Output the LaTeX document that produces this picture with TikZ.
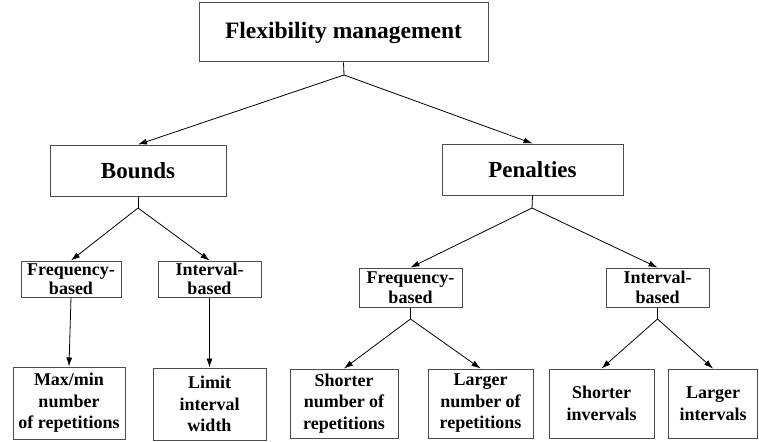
\documentclass[tikz,border=0pt]{standalone}
\usepackage{fontspec}
\setmainfont{Liberation Serif}
\usetikzlibrary{arrows.meta}

\begin{document}
\begin{tikzpicture}[x=1pt,y=-1pt,
  box/.style={draw=black!70,line width=1pt,inner sep=0pt,align=center,font=\bfseries\fontsize{18}{19.5}\selectfont},
  leaf/.style={box,font=\bfseries\fontsize{18}{21.5}\selectfont},
  arr/.style={line width=0.8pt,-{Latex[length=9pt,width=6pt]}}]
\useasboundingbox (0,0) rectangle (759,441);

%boxes
\node[box,minimum width=289pt,minimum height=59pt,font=\bfseries\fontsize{23.5}{26}\selectfont] (flex) at (343.5,32.5) {Flexibility management};
\node[box,minimum width=176pt,minimum height=51pt,font=\bfseries\fontsize{23}{26}\selectfont] (bounds) at (138,170.5) {Bounds};
\node[box,minimum width=181pt,minimum height=51pt,font=\bfseries\fontsize{23}{26}\selectfont] (penal) at (532.5,169.5) {Penalties};

\node[box,minimum width=100pt,minimum height=36pt] (bfreq) at (71,279) {Frequency-\\based};
\node[box,minimum width=103pt,minimum height=36pt] (bint) at (209.5,279) {Interval-\\based};
\node[box,minimum width=103pt,minimum height=39pt] (pfreq) at (410.5,287.5) {Frequency-\\based};
\node[box,minimum width=103pt,minimum height=39pt] (pint) at (657.5,287.5) {Interval-\\based};

\node[leaf,minimum width=112pt,minimum height=72pt] (maxmin) at (69,403) {Max/min\\number\\of repetitions};
\node[leaf,minimum width=113pt,minimum height=72pt] (limit) at (209.5,404) {Limit\\interval\\width};
\node[leaf,minimum width=108pt,minimum height=69pt] (shortnum) at (344,403.5) {Shorter\\number of\\repetitions};
\node[leaf,minimum width=105pt,minimum height=69pt] (largenum) at (480.5,403.5) {Larger\\number of\\repetitions};
\node[leaf,minimum width=105pt,minimum height=69pt] (shortint) at (601.5,403.5) {Shorter\\invervals};
\node[leaf,minimum width=89pt,minimum height=69pt] (largeint) at (713,403.5) {Larger\\intervals};

%junctions
\coordinate (jflex) at (344,75);
\coordinate (jbounds) at (138,208);
\coordinate (jpenal) at (532,208);
\coordinate (jpfreq) at (410.5,319);
\coordinate (jpint) at (657.5,319);

%arrows
\draw[line width=0.8pt] (flex.south) -- (jflex);
\draw[arr] (jflex) -- (bounds.north);
\draw[arr] (jflex) -- (penal.north);

\draw[line width=0.8pt] (bounds.south) -- (jbounds);
\draw[arr] (jbounds) -- (bfreq.north);
\draw[arr] (jbounds) -- (bint.north);
\draw[arr] (bfreq.south) -- (maxmin.north);
\draw[arr] (bint.south) -- (limit.north);

\draw[line width=0.8pt] (penal.south) -- (jpenal);
\draw[arr] (jpenal) -- (pfreq.north);
\draw[arr] (jpenal) -- (pint.north);
\draw[line width=0.8pt] (pfreq.south) -- (jpfreq);
\draw[arr] (jpfreq) -- (shortnum.north);
\draw[arr] (jpfreq) -- (largenum.north);
\draw[line width=0.8pt] (pint.south) -- (jpint);
\draw[arr] (jpint) -- (shortint.north);
\draw[arr] (jpint) -- (largeint.north);
\end{tikzpicture}
\end{document}
